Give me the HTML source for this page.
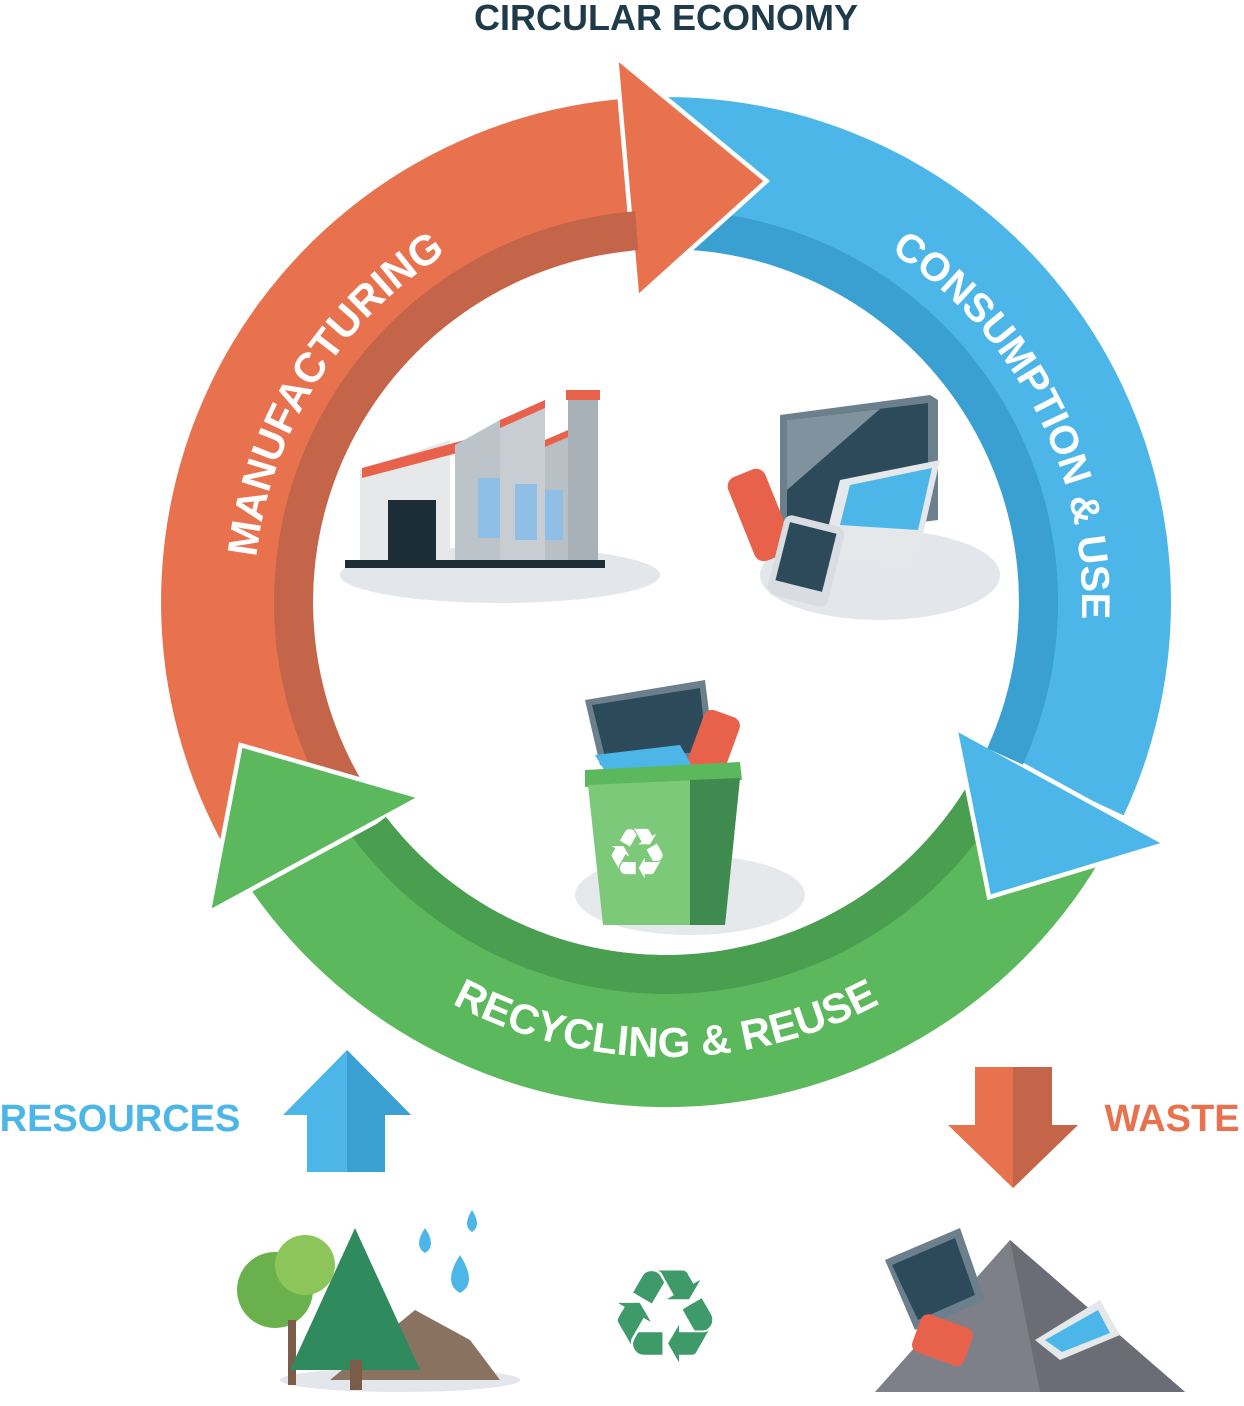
<!DOCTYPE html>
<html><head><meta charset="utf-8"><style>
html,body{margin:0;padding:0;background:#fff;}
svg{display:block;}
text{font-family:"Liberation Sans",sans-serif;font-weight:bold;}
</style></head><body>
<svg id="s" width="1244" height="1406" viewBox="0 0 1244 1406" xmlns="http://www.w3.org/2000/svg">
<defs>
<path id="tpM" d=""/>
<path id="tpC" d=""/>
<path id="tpR" d=""/>
</defs>
<g id="ring"></g>
<text x="666" y="30" text-anchor="middle" font-size="36" fill="#1f3a4a">CIRCULAR ECONOMY</text>
<text font-size="42" fill="#fff"><textPath href="#tpM" startOffset="50%" text-anchor="middle">MANUFACTURING</textPath></text>
<text font-size="40" fill="#fff"><textPath href="#tpC" startOffset="50%" text-anchor="middle">CONSUMPTION &amp; USE</textPath></text>
<text font-size="42" fill="#fff"><textPath href="#tpR" startOffset="50%" text-anchor="middle">RECYCLING &amp; REUSE</textPath></text>

<!-- factory -->
<ellipse cx="500" cy="575" rx="160" ry="28" fill="#e3e6ea"/>
<polygon points="360,470 450,440 450,565 360,565" fill="#e6e8ea"/>
<polygon points="362,468 545,418 545,430 362,478" fill="#e8614a"/>
<polygon points="455,445 500,420 545,405 545,560 455,560" fill="#bcc3c9"/>
<polygon points="500,420 545,402 545,560 500,560" fill="#c7cdd2"/>
<polygon points="545,440 580,425 580,560 545,560" fill="#b8bfc5"/>
<polygon points="500,420 545,400 545,408 500,428" fill="#e8614a"/>
<polygon points="545,440 580,425 580,432 545,447" fill="#e8614a"/>
<rect x="568" y="395" width="30" height="165" fill="#a9b1b8"/>
<rect x="566" y="390" width="34" height="10" fill="#e8614a"/>
<rect x="388" y="500" width="48" height="62" fill="#1c2d38"/>
<rect x="478" y="478" width="22" height="60" fill="#8fbfe6"/>
<rect x="515" y="484" width="22" height="56" fill="#8fbfe6"/>
<rect x="545" y="490" width="18" height="50" fill="#8fbfe6"/>
<rect x="345" y="560" width="260" height="8" fill="#1c2d38"/>

<!-- devices -->
<ellipse cx="880" cy="575" rx="120" ry="45" fill="#e3e6ea"/>
<polygon points="780,415 930,395 938,400 938,520 780,540" fill="#6c7f8c"/>
<polygon points="787,420 928,403 928,512 787,532" fill="#2c4a5a"/>
<polygon points="787,420 880,409 787,490" fill="#7f929e"/>
<polygon points="840,480 940,460 915,570 820,560" fill="#e5e8eb"/>
<polygon points="850,485 932,468 918,530 840,525" fill="#4db6e8"/>
<rect x="740" y="470" width="40" height="90" rx="10" transform="rotate(-22 760 515)" fill="#e8614a"/>
<rect x="775" y="520" width="62" height="82" rx="8" transform="rotate(14 806 561)" fill="#d9dde1"/>
<rect x="782" y="527" width="48" height="60" transform="rotate(14 806 557)" fill="#2c4a5a"/>

<!-- bin -->
<ellipse cx="690" cy="895" rx="115" ry="40" fill="#e6e9ec"/>
<polygon points="585,700 705,680 715,760 600,765" fill="#6c7f8c"/>
<polygon points="592,705 700,688 707,752 605,757" fill="#2c4a5a"/>
<rect x="695" y="712" width="38" height="62" rx="9" transform="rotate(20 714 743)" fill="#e8614a"/>
<polygon points="595,755 680,745 700,780 610,780" fill="#4db6e8"/>
<polygon points="585,770 740,762 742,780 585,787" fill="#5cb85c"/>
<polygon points="588,785 740,778 725,925 603,925" fill="#7dc97a"/>
<polygon points="690,780 740,778 725,925 690,925" fill="#3f8a4e"/>
<text x="637" y="878" text-anchor="middle" font-size="70" fill="#fff" style="font-family:'DejaVu Sans',sans-serif">♻</text>

<!-- arrows -->
<polygon points="347,1050 411,1115 385,1115 385,1172 307,1172 307,1115 283,1115" fill="#4db6e8"/>
<polygon points="347,1050 411,1115 385,1115 385,1172 347,1172" fill="#3a9fd1"/>
<polygon points="975,1067 1052,1067 1052,1125 1078,1125 1013,1188 948,1125 975,1125" fill="#e8714e"/>
<polygon points="1013,1067 1052,1067 1052,1125 1078,1125 1013,1188" fill="#c4654a"/>
<text x="120" y="1131" text-anchor="middle" font-size="38" fill="#4db6e8">RESOURCES</text>
<text x="1172" y="1131" text-anchor="middle" font-size="38" fill="#e8714e">WASTE</text>

<!-- resources -->
<ellipse cx="400" cy="1380" rx="120" ry="12" fill="#e3e6ea"/>
<polygon points="330,1380 415,1310 470,1340 500,1380" fill="#8a7260"/>
<circle cx="275" cy="1290" r="38" fill="#6ab04c"/>
<circle cx="305" cy="1265" r="30" fill="#8cc65a"/>
<rect x="288" y="1320" width="8" height="65" fill="#7a5c48"/>
<polygon points="355,1228 420,1370 290,1370" fill="#2f8a5e"/>
<rect x="350" y="1360" width="12" height="30" fill="#7a5c48"/>
<path d="M425,1228 q-12,18 0,25 q12,-7 0,-25z" fill="#4db6e8"/>
<path d="M472,1210 q-10,16 0,22 q10,-6 0,-22z" fill="#4db6e8"/>
<path d="M460,1255 q-18,28 0,38 q18,-10 0,-38z" fill="#4db6e8"/>
<text x="665" y="1362" text-anchor="middle" font-size="130" fill="#3f9a6a" style="font-family:'DejaVu Sans',sans-serif">♻</text>

<!-- waste -->
<polygon points="875,1392 1010,1240 1185,1392" fill="#7d8088"/>
<polygon points="1010,1240 1185,1392 1040,1392" fill="#6a6d75"/>
<polygon points="885,1260 960,1228 985,1300 915,1330" fill="#6c7f8c"/>
<polygon points="892,1265 955,1238 975,1295 918,1320" fill="#2c4a5a"/>
<rect x="915" y="1320" width="55" height="40" rx="8" transform="rotate(20 942 1340)" fill="#e8614a"/>
<polygon points="1035,1340 1100,1300 1120,1335 1060,1360" fill="#e5e8eb"/>
<polygon points="1045,1340 1098,1310 1110,1333 1062,1352" fill="#4db6e8"/>
</svg>
<script>
var cx=666,cy=602;
function P(a,r){a=a*Math.PI/180;return [(cx+r*Math.cos(a)).toFixed(1),(cy+r*Math.sin(a)).toFixed(1)];}
function band(a1,a2,r1,r2){var l=Math.abs(a2-a1)>180?1:0;var s=a2>a1?1:0;
var o1=P(a1,r2),o2=P(a2,r2),i2=P(a2,r1),i1=P(a1,r1);
return "M"+o1+" A"+r2+","+r2+" 0 "+l+" "+s+" "+o2+" L"+i2+" A"+r1+","+r1+" 0 "+l+" "+(1-s)+" "+i1+"Z";}
function arc(a1,a2,r){var l=Math.abs(a2-a1)>180?1:0;var s=a2>a1?1:0;return "M"+P(a1,r)+" A"+r+","+r+" 0 "+l+" "+s+" "+P(a2,r);}
function poly(pts){return pts.map(function(p){return P(p[0],p[1]).join(",");}).join(" ");}
var g=document.getElementById("ring"),h="";
var segs=[
 {a1:150,a2:268,c:"#e8714e",d:"#c4654a",head:[[265,542],[283,432],[265,310]]},
 {a1:270,a2:385,c:"#4db6e8",d:"#3a9fd1",head:[[384,320],[402,437],[386,550]]},
 {a1:31,a2:145,c:"#5cb85c",d:"#4a9e50",head:[[142,318],[161,448],[146,548]]}];
segs.forEach(function(s){h+='<path d="'+band(s.a1,s.a2,353,505)+'" fill="'+s.c+'"/>';
 h+='<path d="'+band(s.a1,s.a2,353,392)+'" fill="'+s.d+'"/>';});
segs.forEach(function(s){h+='<polygon points="'+poly(s.head)+'" fill="'+s.c+'" stroke="#fff" stroke-width="9" stroke-linejoin="miter"/>';
 h+='<polygon points="'+poly(s.head)+'" fill="'+s.c+'"/>';
 var a=s.head[0][0]-3;h+='<path d="'+band(a,s.head[0][0]+0.5,353,392)+'" fill="'+s.d+'"/>';});
g.innerHTML=h;
document.getElementById("tpM").setAttribute("d",arc(180,244,412));
document.getElementById("tpC").setAttribute("d",arc(296,369,416));
document.getElementById("tpR").setAttribute("d",arc(125,55,455));
</script>
</body></html>
